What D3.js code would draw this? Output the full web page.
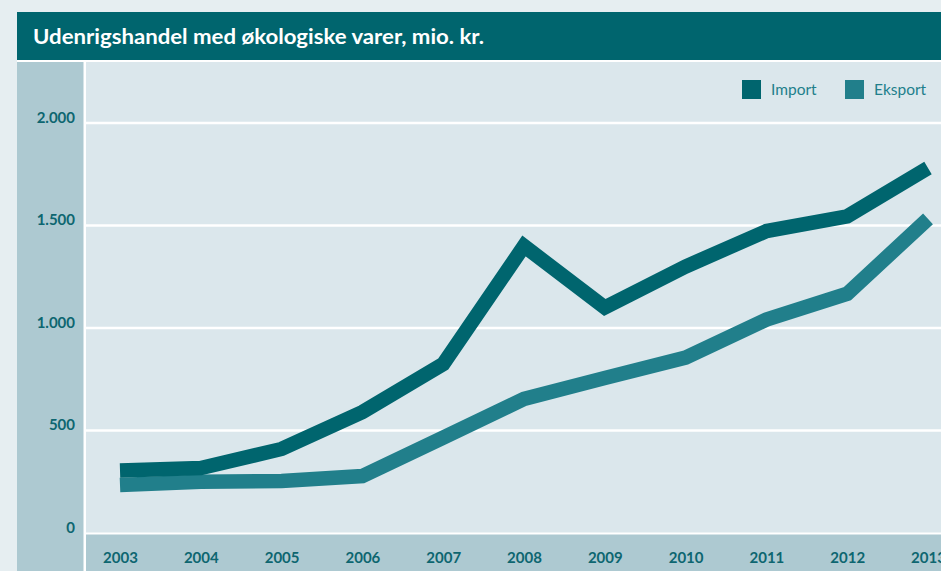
<!DOCTYPE html>
<html><head><meta charset="utf-8">
<script src="https://cdn.jsdelivr.net/npm/d3@7"></script>
<style>
html,body{margin:0;padding:0;background:#e6eef1;}
svg{display:block;}
</style></head>
<body>
<script>
const years = ["2003","2004","2005","2006","2007","2008","2009","2010","2011","2012","2013"];
const importValues = [305, 317, 410, 590, 824, 1400, 1100, 1300, 1473, 1545, 1780];
const exportValues = [234, 250, 254, 278, 465, 654, 756, 856, 1041, 1167, 1532];
const yTicks = [0, 500, 1000, 1500, 2000];
const seriesNames = ["Import", "Eksport"];
const seriesColors = ["#00656e", "#217f8b"];
const title = "Udenrigshandel med økologiske varer, mio. kr.";

const W = 941, H = 571;
const svg = d3.select("body").append("svg").attr("width", W).attr("height", H);
const font = "Lato, 'Open Sans', sans-serif";
const textColor = "#0d6670";

svg.append("rect").attr("width", W).attr("height", H).attr("fill", "#e6eef1");
// title bar
svg.append("rect").attr("x", 17).attr("y", 12).attr("width", W - 17).attr("height", 48).attr("fill", "#00656e");
svg.append("text").attr("x", 33).attr("y", 44).text(title)
  .attr("textLength", 451).attr("lengthAdjust", "spacingAndGlyphs")
  .attr("fill", "#fff").attr("font-family", font).attr("font-weight", 700).attr("font-size", 20.5);

// white gap and panels
svg.append("rect").attr("x", 17).attr("y", 60).attr("width", W - 17).attr("height", H - 60).attr("fill", "#fff");
svg.append("rect").attr("x", 17).attr("y", 62).attr("width", 66.5).attr("height", H - 62).attr("fill", "#adc9d1");
svg.append("rect").attr("x", 86).attr("y", 62).attr("width", W - 86).attr("height", 470.5).attr("fill", "#dbe7ec");
svg.append("rect").attr("x", 86).attr("y", 534.5).attr("width", W - 86).attr("height", H - 534.5).attr("fill", "#adc9d1");

const x = d3.scalePoint().domain(years).range([120, 928]);
const y = d3.scaleLinear().domain([0, 2000]).range([533, 123]);

// gridlines
svg.append("g").selectAll("line").data(yTicks.filter(d => d > 0)).join("line")
  .attr("x1", 86).attr("x2", W).attr("y1", d => y(d)).attr("y2", d => y(d))
  .attr("stroke", "#fff").attr("stroke-width", 2.5);

// y axis labels
const fmt = d => d3.format(",")(d).replace(/,/g, ".");
const yAxis = d3.axisLeft(y).tickValues(yTicks).tickFormat(fmt).tickSize(0).tickPadding(0);
const yg = svg.append("g").attr("transform", "translate(75,0)").call(yAxis);
yg.select(".domain").remove();
yg.selectAll("text").attr("dy", "-0.05em").attr("fill", textColor)
  .attr("font-family", font).attr("font-weight", 700).attr("font-size", 15);

// x axis labels
const xAxis = d3.axisBottom(x).tickSize(0).tickPadding(0);
const xg = svg.append("g").attr("transform", "translate(0,552)").call(xAxis);
xg.select(".domain").remove();
xg.selectAll("text").attr("dy", "0.75em").attr("fill", textColor)
  .attr("font-family", font).attr("font-weight", 700).attr("font-size", 15);

// lines
const line = d3.line().x((d, i) => x(years[i])).y(d => y(d));
[exportValues, importValues].forEach((vals, k) => {
  const idx = k === 0 ? 1 : 0;
  svg.append("path").datum(vals).attr("d", line)
    .attr("fill", "none").attr("stroke", seriesColors[idx]).attr("stroke-width", 14.5)
    .attr("stroke-linejoin", "miter").attr("stroke-linecap", "butt");
});

// legend
const legendX = [742, 845];
const lg = svg.append("g");
seriesNames.forEach((name, i) => {
  lg.append("rect").attr("x", legendX[i]).attr("y", 80).attr("width", 19).attr("height", 19).attr("fill", seriesColors[i]);
  lg.append("text").attr("x", legendX[i] + 29).attr("y", 95).text(name)
    .attr("fill", "#217f8b").attr("font-family", font).attr("font-size", 15.5);
});
</script>
</body></html>
